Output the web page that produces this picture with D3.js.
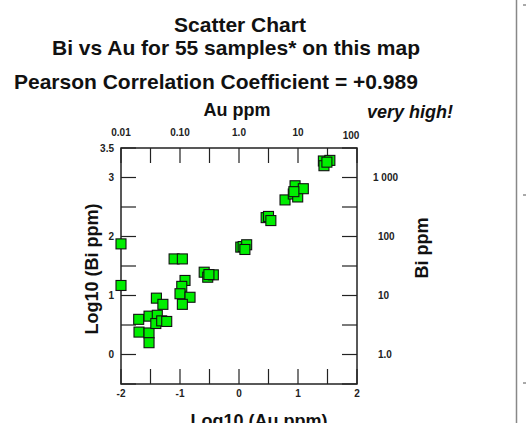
<!DOCTYPE html>
<html>
<head>
<meta charset="utf-8">
<script src="https://cdn.jsdelivr.net/npm/d3@7"></script>
<style>
  body { margin: 0; background: #fff; }
  svg { display: block; font-family: "Liberation Sans", Arial, sans-serif; }
  .tick-label { font-size: 10px; font-weight: bold; fill: #222; }
  .axis-title { font-size: 18px; font-weight: bold; fill: #111; }
  .title { font-size: 21px; font-weight: bold; fill: #111; }
</style>
</head>
<body>
<svg width="532" height="423"></svg>
<script>
// log10 Au ppm (x) and log10 Bi ppm (y)
const logAu = [
  -2.00, -2.00, -1.70, -1.695, -1.525, -1.525, -1.525, -1.40, -1.29, -1.385,
  -1.41, -1.31, -1.225, -1.10, -0.96, -0.915, -0.97, -1.00, -0.83, -0.96,
  -0.59, -0.53, -0.435, -0.51, 0.03, 0.07, 0.13, 0.10, 0.46, 0.50,
  0.54, 0.78, 0.95, 0.92, 0.995, 1.09, 0.93, 1.43, 1.54, 1.44, 1.49
];
const logBi = [
  1.875, 1.17, 0.596, 0.38, 0.65, 0.365, 0.20, 0.955, 0.85, 0.665,
  0.525, 0.57, 0.56, 1.62, 1.62, 1.255, 1.155, 1.03, 0.97, 0.85,
  1.395, 1.31, 1.35, 1.355, 1.82, 1.83, 1.86, 1.78, 2.32, 2.34,
  2.27, 2.62, 2.86, 2.72, 2.67, 2.81, 2.76, 3.28, 3.29, 3.20, 3.26
];

const xTicks = [-2, -1, 0, 1, 2];
const yTicks = [0, 1, 2, 3, 3.5];
const auTickValues = [-2, -1, 0, 1, 2];
const auTickLabels = ['0.01', '0.10', '1.0', '10', '100'];
const biTickValues = [3, 2, 1, 0];
const biTickLabels = ['1 000', '100', '10', '1.0'];

const titleLines = ['Scatter Chart', 'Bi vs Au for 55 samples* on this map'];
const pearsonText = 'Pearson Correlation Coefficient = +0.989';

const svg = d3.select('svg');
const margin = { left: 121, right: 357, top: 148, bottom: 384 };

const xScale = d3.scaleLinear().domain([-2, 2]).range([margin.left, margin.right]);
const yScale = d3.scaleLinear().domain([-0.5, 3.5]).range([margin.bottom, margin.top]);

const minorX = d3.range(-2, 2.001, 0.5);
const minorY = d3.range(-0.5, 3.501, 0.5);
const tickLen = 15;

// titles
svg.append('text').attr('class', 'title').attr('x', 240).attr('y', 32)
  .attr('font-size', 20).attr('text-anchor', 'middle').text(titleLines[0]);
svg.append('text').attr('class', 'title').attr('x', 236).attr('y', 55)
  .attr('text-anchor', 'middle').text(titleLines[1]);
svg.append('text').attr('class', 'title').attr('x', 14).attr('y', 89)
  .text(pearsonText);

svg.append('text').attr('class', 'axis-title').attr('x', 237).attr('y', 116)
  .attr('text-anchor', 'middle').text('Au ppm');
svg.append('text').attr('class', 'axis-title').attr('x', 453).attr('y', 118)
  .attr('text-anchor', 'end').attr('font-style', 'italic').text('very high!');

const g = svg.append('g');

// inner ticks on all four sides
g.selectAll('.tb').data(minorX).enter().append('line')
  .attr('x1', d => xScale(d)).attr('x2', d => xScale(d))
  .attr('y1', margin.bottom).attr('y2', margin.bottom - tickLen)
  .attr('stroke', '#222').attr('stroke-width', 1.2);
g.selectAll('.tt').data(minorX).enter().append('line')
  .attr('x1', d => xScale(d)).attr('x2', d => xScale(d))
  .attr('y1', margin.top).attr('y2', margin.top + tickLen)
  .attr('stroke', '#222').attr('stroke-width', 1.2);
g.selectAll('.tl').data(minorY).enter().append('line')
  .attr('x1', margin.left).attr('x2', margin.left + tickLen)
  .attr('y1', d => yScale(d)).attr('y2', d => yScale(d))
  .attr('stroke', '#222').attr('stroke-width', 1.2);
g.selectAll('.tr').data(minorY).enter().append('line')
  .attr('x1', margin.right).attr('x2', margin.right - tickLen)
  .attr('y1', d => yScale(d)).attr('y2', d => yScale(d))
  .attr('stroke', '#222').attr('stroke-width', 1.2);

// frame
g.append('rect')
  .attr('x', margin.left).attr('y', margin.top)
  .attr('width', margin.right - margin.left)
  .attr('height', margin.bottom - margin.top)
  .attr('fill', 'none').attr('stroke', '#222').attr('stroke-width', 1.5);

// tick labels
g.selectAll('.xl').data(xTicks).enter().append('text')
  .attr('class', 'tick-label')
  .attr('x', d => xScale(d)).attr('y', 397)
  .attr('text-anchor', 'middle').text(d => d);
g.selectAll('.yl').data(yTicks).enter().append('text')
  .attr('class', 'tick-label')
  .attr('x', 114).attr('y', d => yScale(d) + 3.5)
  .attr('text-anchor', 'end').text(d => d);
g.selectAll('.al').data(auTickValues).enter().append('text')
  .attr('class', 'tick-label')
  .attr('x', (d, i) => xScale(d) - (i === 4 ? 6 : 0))
  .attr('y', (d, i) => i === 4 ? 139 : 136)
  .attr('text-anchor', 'middle').text((d, i) => auTickLabels[i]);
g.selectAll('.bl').data(biTickValues).enter().append('text')
  .attr('class', 'tick-label')
  .attr('x', (d, i) => i === 0 ? 373 : 378)
  .attr('y', d => yScale(d) + 3.5)
  .text((d, i) => biTickLabels[i]);

// axis titles
svg.append('text').attr('class', 'axis-title')
  .attr('transform', 'translate(98,269) rotate(-90)')
  .attr('text-anchor', 'middle').text('Log10 (Bi ppm)');
svg.append('text').attr('class', 'axis-title')
  .attr('transform', 'translate(428,248) rotate(-90)')
  .attr('text-anchor', 'middle').text('Bi ppm');
svg.append('text').attr('class', 'axis-title')
  .attr('x', 259).attr('y', 427).attr('font-size', 18.5)
  .attr('text-anchor', 'middle').text('Log10 (Au ppm)');

// points
const pts = logAu.map((x, i) => ({ x, y: logBi[i] }));
const size = 10;
g.selectAll('rect.pt').data(pts).enter().append('rect')
  .attr('class', 'pt')
  .attr('x', d => xScale(d.x) - size / 2)
  .attr('y', d => yScale(d.y) - size / 2)
  .attr('width', size).attr('height', size)
  .attr('fill', '#00ee00').attr('stroke', '#111').attr('stroke-width', 1.1);

// right-side panel edge
svg.append('line').attr('x1', 516.5).attr('x2', 516.5).attr('y1', 0).attr('y2', 423)
  .attr('stroke', '#888').attr('stroke-width', 1.5);
svg.selectAll('.dash').data([5, 195, 383]).enter().append('line')
  .attr('x1', 523).attr('x2', 526).attr('y1', d => d).attr('y2', d => d)
  .attr('stroke', '#555').attr('stroke-width', 1);
</script>
</body>
</html>
